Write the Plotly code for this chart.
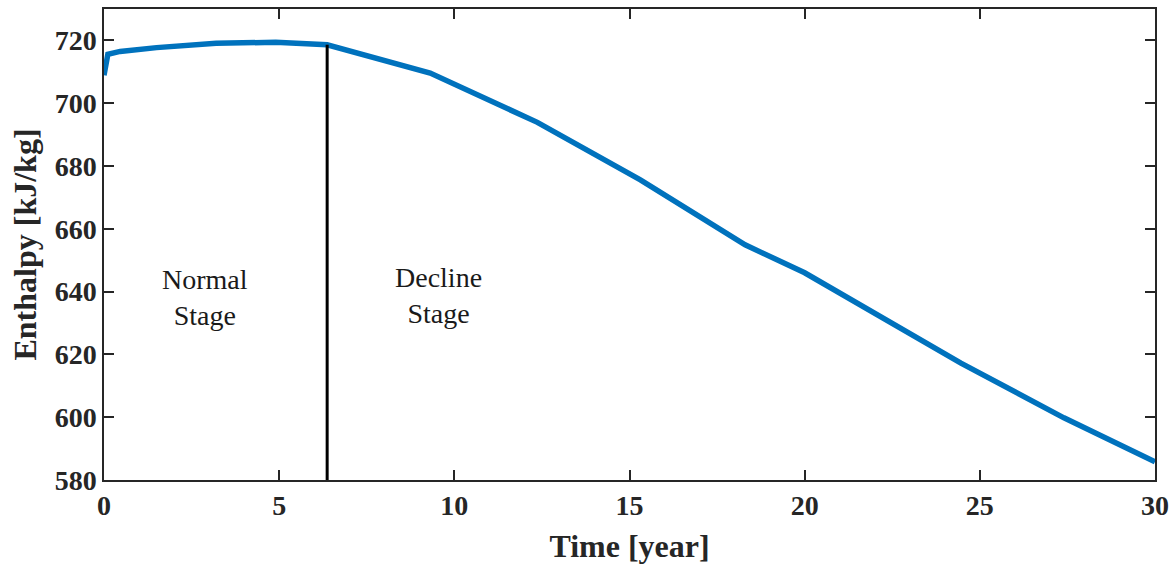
import plotly.graph_objects as go

# Enthalpy over the production period
time_year = [0.0, 0.11, 0.46, 1.5, 3.2, 4.9, 6.37, 9.31, 12.37, 15.31, 18.3, 20.0, 24.46, 27.4, 30.0]
enthalpy = [708.9, 715.6, 716.5, 717.7, 719.1, 719.4, 718.6, 709.6, 693.9, 675.6, 654.9, 646.0, 617.2, 599.8, 585.8]

# Boundary between the two stages
stage_split = 6.37
split_top = 718.6

stage_labels = ["Normal<br>Stage", "Decline<br>Stage"]
stage_x = [2.89, 9.54]
stage_y = [638, 638.8]

x_ticks = [0, 5, 10, 15, 20, 25, 30]
y_ticks = [580, 600, 620, 640, 660, 680, 700, 720]

font_family = "Liberation Serif, Times New Roman, serif"
axis_color = "#262626"

fig = go.Figure()
fig.add_trace(go.Scatter(
    x=time_year, y=enthalpy, mode="lines",
    line=dict(color="#0072BD", width=5.5), showlegend=False,
))
fig.add_trace(go.Scatter(
    x=[stage_split, stage_split], y=[580, split_top], mode="lines",
    line=dict(color="black", width=3), showlegend=False,
))

for txt, xx, yy in zip(stage_labels, stage_x, stage_y):
    fig.add_annotation(x=xx, y=yy, text=txt, showarrow=False,
                       font=dict(family=font_family, size=28, color="#1a1a1a"))

axis_common = dict(
    showline=True, linecolor=axis_color, linewidth=1.5, mirror="ticks",
    ticks="inside", ticklen=10, tickwidth=1.5, tickcolor=axis_color,
    showgrid=False, zeroline=False, automargin=False,
    tickfont=dict(family=font_family, size=28, color=axis_color, weight="bold"),
)

fig.update_xaxes(range=[0, 30], tickvals=x_ticks,
                 title=dict(text="<b>Time [year]</b>", standoff=14,
                            font=dict(family=font_family, size=32, color=axis_color)),
                 **axis_common)
fig.update_yaxes(range=[580, 730], tickvals=y_ticks,
                 title=dict(text="<b>Enthalpy [kJ/kg]</b>", standoff=8,
                            font=dict(family=font_family, size=32, color=axis_color)),
                 **axis_common)

fig.update_layout(
    width=1174, height=565,
    margin=dict(l=104, r=19, t=9, b=85),
    plot_bgcolor="white", paper_bgcolor="white",
)

fig.write_html("out.html")
